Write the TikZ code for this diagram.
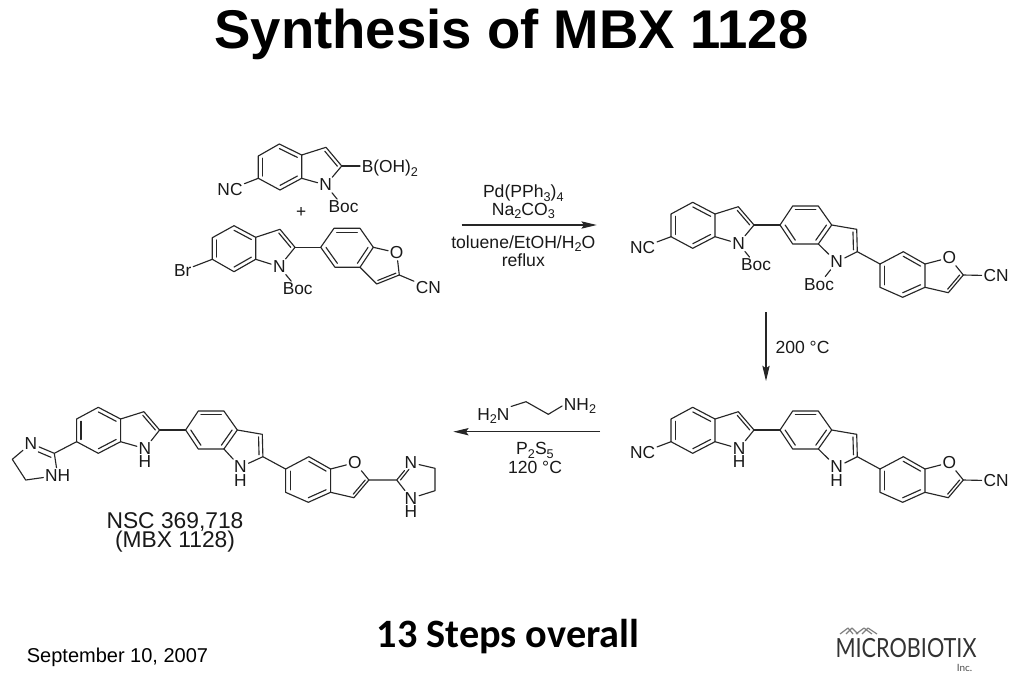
\documentclass[tikz,border=0pt]{standalone}
\usepackage{fontspec}
\setmainfont{Liberation Sans}
\newfontfamily\calfont{Carlito}
\newfontfamily\logofont{Lato}
\usetikzlibrary{calc,arrows.meta}
\newcommand{\fsz}[1]{\fontsize{#1}{#1}\selectfont}
\newcommand{\dbond}[3]{\draw[bond] ($(#1)!0.2!(#3)$) -- ($(#2)!0.2!(#3)$);}
\newcommand{\hexring}[6]{\draw[bond] (#1)--(#2)--(#3)--(#4)--(#5)--(#6)--cycle;}
\newcommand{\sub}[1]{\raisebox{-0.2em}{\fsz{9.5}#1}}
\tikzset{
  bond/.style={draw=black!85,line width=0.85pt,line cap=round,line join=round},
  atom/.style={inner sep=1.2pt,font=\fsz{13},text=black!90},
  hatom/.style={inner sep=0pt,font=\fsz{13},text=black!90},
  rtext/.style={inner sep=0pt,font=\fsz{13.2},text=black!90},
  rxn/.style={draw=black!85,line width=0.8pt,-{Stealth[length=11.5pt,width=5.5pt,inset=2pt]}},
}
% central skeleton: two indoles and one benzofuran (base positions as in the Boc compound)
% #1 prefix, #2 #3 shift, #4 extras, #5 #6 x of the two N labels
\newcommand{\core}[6]{%
\begin{scope}[shift={(#2,#3)}]
\coordinate (#1a1) at (692.7,202.3);\coordinate (#1a2) at (671,214);\coordinate (#1a3) at (671,236.7);
\coordinate (#1a4) at (692.7,248.3);\coordinate (#1a5) at (715,236.7);\coordinate (#1a6) at (715,214);
\coordinate (#1ac) at (693,225.5);
\coordinate (#1a7) at (738.3,206.7);\coordinate (#1a8) at (754,225);\coordinate (#1ad) at (733,225);
\node[atom] (#1n1) at (#5,243.6) {N};
\coordinate (#1b1) at (780,225);\coordinate (#1b2) at (792.7,206);\coordinate (#1b3) at (818.3,206);
\coordinate (#1b4) at (831.7,225);\coordinate (#1b5) at (818.3,244);\coordinate (#1b6) at (792.7,244);
\coordinate (#1bc) at (805.7,225);
\coordinate (#1b7) at (856.7,229.3);\coordinate (#1b8) at (857.3,251.7);\coordinate (#1bd) at (838,242);
\node[atom] (#1n2) at (#6,262) {N};
\coordinate (#1c1) at (880,264);\coordinate (#1c2) at (903.3,251.7);\coordinate (#1c3) at (925,264);
\coordinate (#1c4) at (925,287.3);\coordinate (#1c5) at (902.7,297.3);\coordinate (#1c6) at (880,287.3);
\coordinate (#1cc) at (902.7,274.5);
\node[atom] (#1o) at (949.3,257.7) {O};
\coordinate (#1c7) at (963.3,275);\coordinate (#1c8) at (948.3,292.7);\coordinate (#1ce) at (945,275);
\hexring{#1a1}{#1a2}{#1a3}{#1a4}{#1a5}{#1a6}
\dbond{#1a2}{#1a3}{#1ac}\dbond{#1a4}{#1a5}{#1ac}\dbond{#1a6}{#1a1}{#1ac}
\draw[bond] (#1a6)--(#1a7)--(#1a8)--(#1n1)--(#1a5);
\dbond{#1a7}{#1a8}{#1ad}
\draw[bond] (#1a8)--(#1b1);
\hexring{#1b1}{#1b2}{#1b3}{#1b4}{#1b5}{#1b6}
\dbond{#1b1}{#1b6}{#1bc}\dbond{#1b2}{#1b3}{#1bc}\dbond{#1b4}{#1b5}{#1bc}
\draw[bond] (#1b4)--(#1b7)--(#1b8)--(#1n2)--(#1b5);
\dbond{#1b7}{#1b8}{#1bd}
\draw[bond] (#1b8)--(#1c1);
\hexring{#1c1}{#1c2}{#1c3}{#1c4}{#1c5}{#1c6}
\dbond{#1c6}{#1c1}{#1cc}\dbond{#1c2}{#1c3}{#1cc}\dbond{#1c4}{#1c5}{#1cc}
\draw[bond] (#1c3)--(#1o)--(#1c7)--(#1c8)--(#1c4);
\dbond{#1c7}{#1c8}{#1ce}
#4
\end{scope}}
\begin{document}
\begin{tikzpicture}[x=0.75pt,y=-0.75pt]
\useasboundingbox[fill=white] (0,0) rectangle (1023,682);
% title and footer
\node[inner sep=0pt,font=\fsz{40.9}\bfseries] (title) at (511.5,34.5) {Synthesis of MBX 1128};
\node[inner sep=0pt,font=\calfont\fsz{30.2}\bfseries] (steps) at (508,637) {13 Steps overall};
\node[inner sep=0pt,font=\fsz{15}] (date) at (117.5,657) {September 10, 2007};
% logo
\node[inner sep=0pt,font=\logofont\fsz{19.8},text=black!80] (logo) at (906,648) {\scalebox{0.82}[1]{MICROBIOTIX}};
\node[inner sep=0pt,font=\logofont\fsz{7.5},text=black!70] (inc) at (964.5,667.5) {Inc.};
\draw[black!50,line width=0.9pt,line join=round] (840,634)--(848,628)--(853,634) (846,634)--(852,628)--(858,634)
 (856,634)--(864,628)--(872,634) (862,634)--(868,628)--(877,634);
% compound 1
\coordinate (p1) at (279.3,144);\coordinate (p2) at (258.3,156);\coordinate (p3) at (258.3,178.3);
\coordinate (p4) at (280,190);\coordinate (p5) at (301.7,178.3);\coordinate (p6) at (301.7,155);
\coordinate (pc) at (280,167);\coordinate (p7) at (326,147.3);\coordinate (p8) at (341.7,166);\coordinate (pd) at (320,167);
\node[atom] (pn) at (325.7,185) {N};
\node[atom,anchor=west] (pb) at (360,168.5) {B(OH)\sub{2}};
\node[atom] (pnc) at (230,189.3) {NC};
\node[atom] (pboc) at (343.5,207) {Boc};
\node[atom] (plus) at (301.3,212) {+};
\hexring{p1}{p2}{p3}{p4}{p5}{p6}
\dbond{p2}{p3}{pc}\dbond{p4}{p5}{pc}\dbond{p6}{p1}{pc}
\draw[bond] (p6)--(p7)--(p8)--(pn)--(p5);
\dbond{p7}{p8}{pd}
\draw[bond] (p8)--(pb.west|-p8);
\draw[bond] (p3)--(pnc);
\draw[bond] (pn)--(pboc);
% compound 2
\coordinate (q1) at (234,225.7);\coordinate (q2) at (212.3,237.7);\coordinate (q3) at (212.3,259.3);
\coordinate (q4) at (234,271.7);\coordinate (q5) at (255.7,259.3);\coordinate (q6) at (255.7,237.3);
\coordinate (qc) at (234,248.5);\coordinate (q7) at (280,229.3);\coordinate (q8) at (295,247.3);\coordinate (qd) at (274,248);
\node[atom] (qn) at (279.3,266.7) {N};
\node[atom] (qbr) at (182.7,270.7) {Br};
\node[atom] (qboc) at (297.7,289) {Boc};
\coordinate (r1) at (320.7,247.3);\coordinate (r2) at (334,228.3);\coordinate (r3) at (360,228.3);
\coordinate (r4) at (373.3,247.3);\coordinate (r5) at (360,267.3);\coordinate (r6) at (335,267.3);
\coordinate (rc) at (347,247.5);
\node[atom] (ro) at (396.7,252.7) {O};
\coordinate (r7) at (399.3,275);\coordinate (r8) at (376.7,284);\coordinate (re) at (382,266);
\node[atom] (rcn) at (428.3,287.3) {CN};
\hexring{q1}{q2}{q3}{q4}{q5}{q6}
\dbond{q2}{q3}{qc}\dbond{q4}{q5}{qc}\dbond{q6}{q1}{qc}
\draw[bond] (q6)--(q7)--(q8)--(qn)--(q5);
\dbond{q7}{q8}{qd}
\draw[bond] (q3)--(qbr);
\draw[bond] (qn)--(qboc);
\draw[bond] (q8)--(r1);
\hexring{r1}{r2}{r3}{r4}{r5}{r6}
\dbond{r1}{r6}{rc}\dbond{r2}{r3}{rc}\dbond{r4}{r5}{rc}
\draw[bond] (r4)--(ro)--(r7)--(r8)--(r5);
\dbond{r7}{r8}{re}
\draw[bond] (r7)--(rcn);
% compound 3 (bis-Boc)
\core{u}{0}{0}{%
\node[atom] (unc) at (642.7,247.3) {NC};
\node[atom] (ucn) at (996,275.7) {CN};
\node[atom] (ub1) at (756,265) {Boc};
\node[atom] (ub2) at (819,284.5) {Boc};
\draw[bond] (ua3)--(unc);\draw[bond] (uc7)--(ucn);
\draw[bond] (un1)--(ub1);\draw[bond] (un2)--(ub2);}{738.5}{836.7}
% compound 4 (free NH)
\core{v}{0}{205}{%
\node[atom] (vnc) at (642.7,247.3) {NC};
\node[atom] (vcn) at (996,275.7) {CN};
\node[hatom] (vh1) at (739,257) {H};
\node[hatom] (vh2) at (836.7,275.3) {H};
\draw[bond] (va3)--(vnc);\draw[bond] (vc7)--(vcn);}{739}{836.7}
% compound 5 (MBX 1128)
\core{w}{-594.4}{205}{%
\node[hatom] (wh1) at (739.4,257) {H};
\node[hatom] (wh2) at (834.8,275.3) {H};}{739.4}{834.8}
\coordinate (l1) at (54.3,453.3);\coordinate (l3) at (12.3,459.3);\coordinate (l4) at (25.7,480);
\node[atom] (l2) at (31,443.5) {N};
\node[atom] (l5) at (57.7,475.5) {NH};
\draw[bond] (wa3)--(l1)--(l5)--(l4)--(l3)--(l2)--(l1);
\draw[bond] ($(l2)+(7.3,8.4)$) -- ($(l1)+(-3.3,4)$);
\coordinate (m1) at (396.7,480);\coordinate (m3) at (435,468.3);\coordinate (m4) at (435,490.7);
\node[atom] (m2) at (411,462.7) {N};
\node[atom] (m5) at (411,498.3) {N};
\node[hatom] (m6) at (411,511.7) {H};
\draw[bond] (wc7)--(m1)--(m5)--(m4)--(m3)--(m2)--(m1);
\draw[bond] ($(m2)+(-2,6.6)$) -- ($(m1)+(3.8,0)$);
\node[rtext,font=\fsz{17.1}] (nsc) at (175,521.5) {NSC 369,718};
\node[rtext,font=\fsz{17.1}] (mbx) at (175,541.7) {(MBX 1128)};
% arrow 1
\coordinate (a1s) at (461.7,225);\coordinate (a1e) at (596.7,225);
\draw[rxn] (a1s)--(a1e);
\node[rtext] (t1) at (523.3,193) {Pd(PPh\sub{3})\sub{4}};
\node[rtext] (t2) at (523.3,211) {Na\sub{2}CO\sub{3}};
\node[rtext] (t3) at (523.3,243.5) {toluene/EtOH/H\sub{2}O};
\node[rtext] (t4) at (523.3,259.8) {reflux};
% arrow 2
\coordinate (a2s) at (766,312);\coordinate (a2e) at (766,381);
\draw[rxn] (a2s)--(a2e);
\node[rtext] (t5) at (802.5,347.5) {200 °C};
% arrow 3
\coordinate (a3s) at (600,431.7);\coordinate (a3e) at (453.3,431.7);
\draw[rxn] (a3s)--(a3e);
\node[atom] (h2n) at (493.3,416) {H\sub{2}N};
\node[atom] (nh2) at (580,406) {NH\sub{2}};
\coordinate (e1) at (526,401.7);\coordinate (e2) at (548.3,414.3);
\draw[bond] (h2n.north east)--(e1)--(e2)--(nh2.west);
\node[rtext] (t6) at (535,450.5) {P\sub{2}S\sub{5}};
\node[rtext] (t7) at (535,467.5) {120 °C};
\end{tikzpicture}
\end{document}
